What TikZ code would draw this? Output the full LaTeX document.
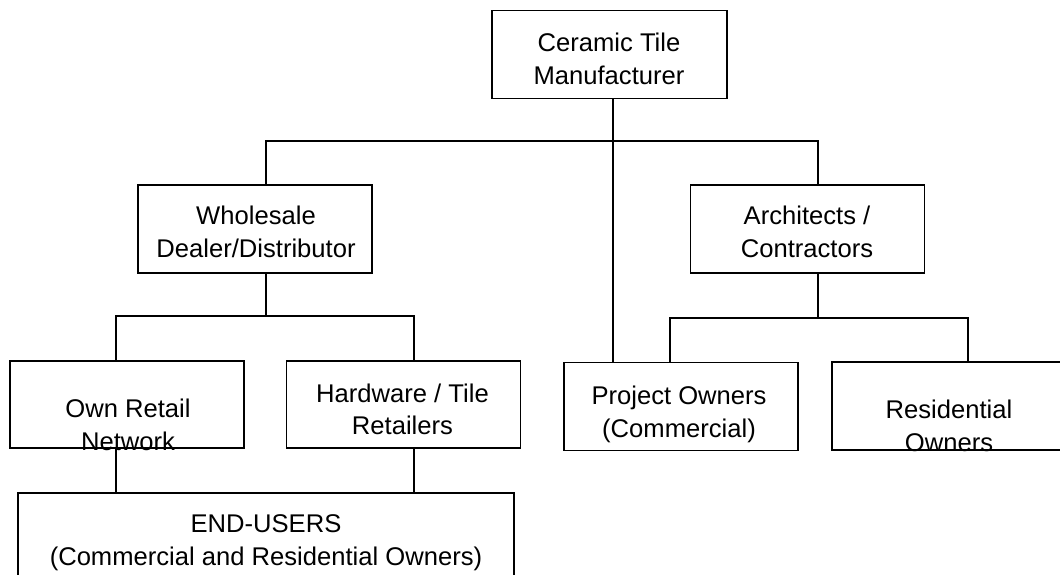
\documentclass[tikz,border=0pt]{standalone}
\usepackage{fontspec}
\setmainfont{Liberation Sans}
\newcommand\chartfont{\fontsize{25.6}{33}\selectfont}

\tikzset{
    unit/.style={draw, line width=1.5pt, minimum width=234pt, minimum height=88pt, inner sep=0pt},
    txt/.style={anchor=base, inner sep=0pt, font=\chartfont},
    link/.style={line width=1.5pt},
}

\begin{document}
\begin{tikzpicture}[x=1pt,y=-1pt]
\useasboundingbox (0,0) rectangle (1060,575);

% boxes
\node[unit, minimum width=235pt] (mfr) at (609.5,54.5) {};
\node[unit] (whole) at (255,229) {};
\node[unit] (arch) at (807.5,229) {};
\node[unit, minimum height=87pt] (own) at (127,404.5) {};
\node[unit, minimum height=87pt] (hard) at (403.5,404.5) {};
\node[unit] (proj) at (681,406.5) {};
\node[unit] (res) at (949,406) {};
\node[unit, minimum width=496pt] (end) at (266,537) {};

% labels
\node[txt] (mfr-a) at (609,52) {Ceramic Tile};
\node[txt] (mfr-b) at (609,85) {Manufacturer};
\node[txt] (whole-a) at (256,224) {Wholesale};
\node[txt] (whole-b) at (256,257) {Dealer/Distributor};
\node[txt] (arch-a) at (807,224) {Architects /};
\node[txt] (arch-b) at (807,257) {Contractors};
\node[txt] (own-a) at (128,417) {Own Retail};
\node[txt] (own-b) at (128,450) {Network};
\node[txt] (hard-a) at (402.5,402) {Hardware / Tile};
\node[txt] (hard-b) at (402.5,434) {Retailers};
\node[txt] (proj-a) at (679,404) {Project Owners};
\node[txt] (proj-b) at (679,437) {(Commercial)};
\node[txt] (res-a) at (949,418) {Residential};
\node[txt] (res-b) at (949,451) {Owners};
\node[txt] (end-a) at (266,532) {END-USERS};
\node[txt] (end-b) at (266,565) {(Commercial and Residential Owners)};

% junctions
\coordinate (trunk) at (613,141);
\coordinate (whole-bar) at (266,316);
\coordinate (arch-bar) at (818,318);

% connectors
\draw[link] (trunk |- mfr.south) -- (trunk |- proj.north);
\draw[link] ([xshift=11pt]whole.north) |- (trunk) -| ([xshift=10.5pt]arch.north);
\draw[link] ([xshift=11pt]whole.south) -- (whole-bar);
\draw[link] ([xshift=-11pt]own.north) |- (whole-bar) -| ([xshift=10.5pt]hard.north);
\draw[link] ([xshift=10.5pt]arch.south) -- (arch-bar);
\draw[link] ([xshift=-11pt]proj.north) |- (arch-bar) -| ([xshift=19pt]res.north);
\draw[link] ([xshift=-11pt]own.south) -- ([xshift=-11pt]own.south |- end.north);
\draw[link] ([xshift=10.5pt]hard.south) -- ([xshift=10.5pt]hard.south |- end.north);
\end{tikzpicture}
\end{document}
